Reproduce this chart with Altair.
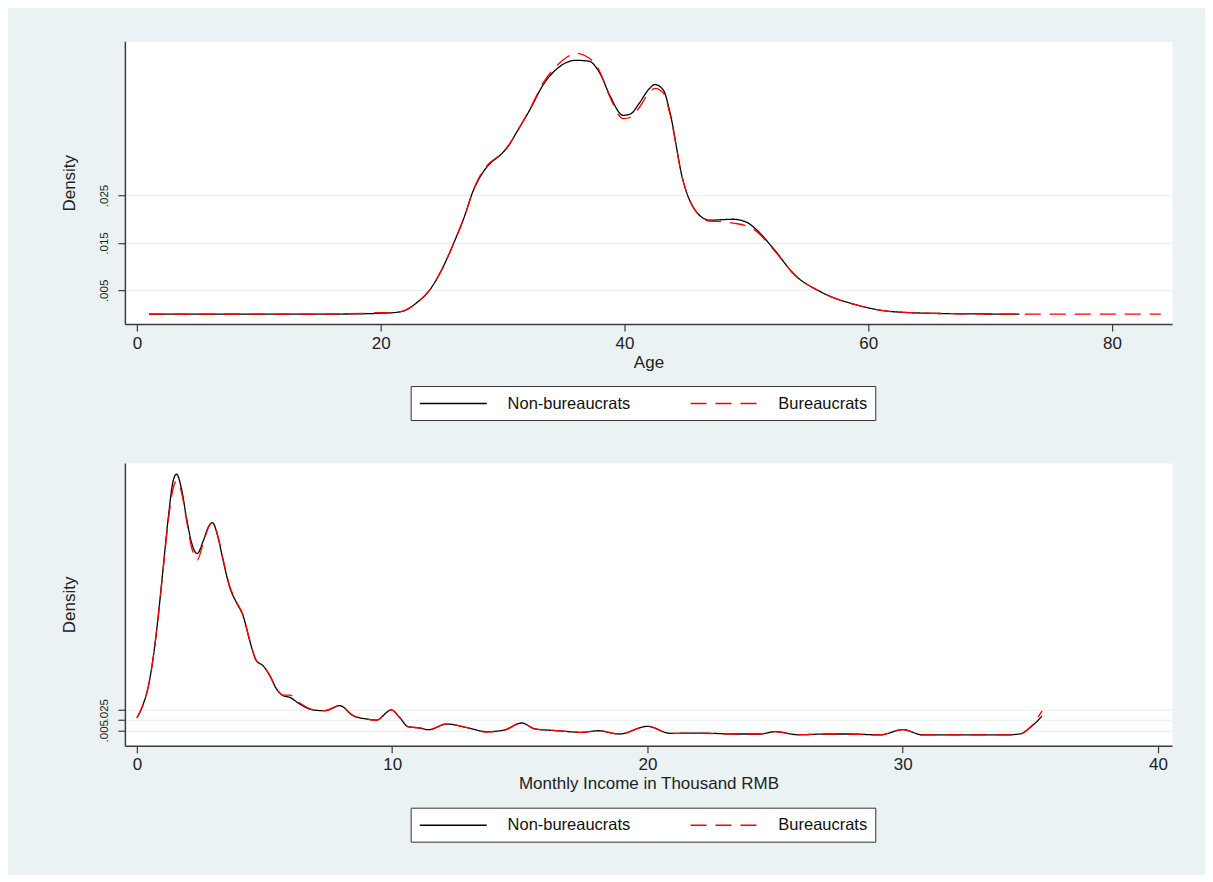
import altair as alt
import pandas as pd

GROUPS = ["Non-bureaucrats", "Bureaucrats"]

# ---- Age densities ----
age_x_nb = [1, 5, 10, 15, 19, 20, 21, 22, 23, 24, 25, 26, 27, 27.5, 28, 28.5, 29, 29.8, 30.5,
            31.1, 32.2, 33.4, 34.5, 35.3, 36, 37.1, 38, 38.8, 39.9, 40.5, 41.2, 42, 42.5, 43.2,
            43.7, 44.8, 45.8, 47, 48, 48.9, 50, 50.7, 52.1, 54, 56.1, 59.1, 62.1, 66.7, 72.4]
age_nb = [0.0, 0.0, 0.0, 0.0, 0.0001, 0.0002, 0.0003, 0.0008, 0.0025, 0.0050, 0.0093, 0.0150,
          0.0215, 0.0254, 0.0282, 0.0303, 0.0318, 0.0335, 0.0355, 0.0381, 0.0429, 0.0486,
          0.0518, 0.0531, 0.0535, 0.0533, 0.0507, 0.0461, 0.0419, 0.0422, 0.0444, 0.0474,
          0.0484, 0.0472, 0.0429, 0.0282, 0.0219, 0.0198, 0.0199, 0.0200, 0.0194, 0.0181,
          0.0142, 0.0082, 0.0047, 0.0019, 0.0005, 0.0001, 0.0]

age_x_b = [1, 5, 10, 15, 19, 20, 21, 22, 23, 24, 25, 26, 27, 27.5, 28, 28.5, 29, 29.8, 30.5,
           31.1, 32.2, 33.4, 34.5, 35.3, 36, 37.1, 38, 38.8, 39.9, 40.5, 41.2, 42, 42.5, 43.2,
           43.7, 44.8, 45.8, 47, 48, 48.9, 50, 50.7, 52.1, 54, 56.1, 59.1, 62.1, 66.7, 72.4, 84]
age_b = [0.0, 0.0, 0.0, 0.0, 0.0002, 0.0003, 0.0003, 0.0008, 0.0025, 0.0050, 0.0093, 0.0150,
         0.0215, 0.0254, 0.0284, 0.0306, 0.0320, 0.0336, 0.0356, 0.0381, 0.0430, 0.0490,
         0.0525, 0.0542, 0.0550, 0.0540, 0.0510, 0.0458, 0.0412, 0.0415, 0.0435, 0.0466,
         0.0476, 0.0466, 0.0425, 0.0282, 0.0219, 0.0196, 0.0195, 0.0192, 0.0186, 0.0177,
         0.0140, 0.0082, 0.0047, 0.0019, 0.0005, 0.0001, 0.0, 0.0]

# ---- Income densities ----
inc_x = [0.0, 0.25, 0.44, 0.64, 0.83, 1.03, 1.23, 1.42, 1.55, 1.75, 1.94, 2.14, 2.36, 2.6,
         2.79, 2.96, 3.18, 3.38, 3.64, 3.90, 4.16, 4.42, 4.68, 4.94, 5.21, 5.47, 5.73, 5.99,
         6.38, 6.90, 7.36, 7.95, 8.47, 8.99, 9.38, 9.97, 10.29, 10.62, 11.08, 11.43, 12.13,
         13.0, 13.7, 14.4, 15.07, 15.6, 16.5, 17.4, 18.07, 18.9, 20.0, 20.9, 22.0, 23.5, 24.4,
         25.0, 25.9, 27.0, 27.9, 29.1, 30.0, 30.8, 32.2, 34.0, 34.6, 35.0, 35.46]
inc_nb = [0.0171, 0.0305, 0.0463, 0.0749, 0.1130, 0.1606, 0.2082, 0.2431, 0.2495, 0.2352,
          0.2082, 0.1844, 0.1739, 0.1860, 0.1987, 0.2034, 0.1891, 0.1670, 0.1415, 0.1272,
          0.1146, 0.0908, 0.0717, 0.0670, 0.0574, 0.0448, 0.0384, 0.0368, 0.0305, 0.0248,
          0.0241, 0.0289, 0.0193, 0.0162, 0.0152, 0.0248, 0.0177, 0.0089, 0.0076, 0.0060,
          0.0114, 0.0076, 0.0041, 0.0057, 0.0124, 0.0067, 0.0050, 0.0035, 0.0050, 0.0019,
          0.0092, 0.0025, 0.0028, 0.0019, 0.0019, 0.0041, 0.0012, 0.0019, 0.0019, 0.0010,
          0.0060, 0.0010, 0.0010, 0.0010, 0.0020, 0.0082, 0.0190]
inc_b = [0.0171, 0.0305, 0.0463, 0.0749, 0.1125, 0.1590, 0.2050, 0.2360, 0.2430, 0.2320,
         0.2060, 0.1800, 0.1676, 0.1840, 0.1980, 0.2034, 0.1900, 0.1680, 0.1425, 0.1280,
         0.1150, 0.0915, 0.0720, 0.0672, 0.0576, 0.0450, 0.0390, 0.0390, 0.0315, 0.0250,
         0.0241, 0.0289, 0.0195, 0.0162, 0.0150, 0.0248, 0.0177, 0.0089, 0.0076, 0.0060,
         0.0114, 0.0076, 0.0038, 0.0057, 0.0124, 0.0067, 0.0050, 0.0035, 0.0050, 0.0019,
         0.0092, 0.0025, 0.0025, 0.0019, 0.0019, 0.0041, 0.0012, 0.0019, 0.0019, 0.0010,
         0.0060, 0.0010, 0.0010, 0.0010, 0.0020, 0.0085, 0.0240]

Y_TICKS = [0.005, 0.015, 0.025]
AGE_TICKS = [0, 20, 40, 60, 80]
INC_TICKS = [0, 10, 20, 30, 40]

FONT = "Liberation Sans, Arial, sans-serif"
# long legend sample line: path spans 8 half-units to the right of its start
LEGEND_LINE = "M-1,0L7,0"


def frame(xs_nb, ys_nb, xs_b, ys_b):
    a = pd.DataFrame({"x": xs_nb, "d": ys_nb, "g": GROUPS[0]})
    b = pd.DataFrame({"x": xs_b, "d": ys_b, "g": GROUPS[1]})
    return pd.concat([a, b], ignore_index=True)


def panel(df, xdom, xticks, ydom, xtitle):
    legend = alt.Legend(
        title=None, orient="none", legendX=286, legendY=345, direction="horizontal",
        symbolType=LEGEND_LINE, symbolSize=281, symbolStrokeWidth=1.4,
        symbolFillColor="transparent",
        labelFontSize=16.5, labelFont=FONT, labelColor="#111111", labelOffset=70,
        columnPadding=57, padding=8, strokeColor="#333333", fillColor="white",
        labelLimit=300,
    )
    color = alt.Color("g:N", scale=alt.Scale(domain=GROUPS, range=["#000000", "#FF0000"]),
                      legend=legend)
    dash = alt.StrokeDash("g:N", scale=alt.Scale(domain=GROUPS, range=[[1, 0], [16, 9]]),
                          legend=legend)
    x = alt.X("x:Q", scale=alt.Scale(domain=xdom, nice=False, zero=False),
              axis=alt.Axis(values=xticks, title=xtitle, grid=False, format="d"))
    y = alt.Y("d:Q", scale=alt.Scale(domain=ydom, nice=False, zero=False),
              axis=alt.Axis(values=Y_TICKS, title="Density", grid=True,
                            labelExpr="substring(format(datum.value, '.3f'), 1)",
                            labelAngle=270, labelAlign="center", labelBaseline="bottom",
                            labelFontSize=11.5, labelPadding=8, titlePadding=20))
    base = alt.Chart(df).mark_line(interpolate="monotone", strokeWidth=1.3).encode(
        x=x, y=y, color=color, strokeDash=dash)
    l1 = base.transform_filter(alt.datum.g == GROUPS[0])
    l2 = base.transform_filter(alt.datum.g == GROUPS[1])
    return alt.layer(l1, l2).properties(width=1048, height=283)


top = panel(frame(age_x_nb, age_nb, age_x_b, age_b), [-0.98, 84.92], AGE_TICKS,
            [-0.0021, 0.0575], "Age")
bottom = panel(frame(inc_x, inc_nb, inc_x, inc_b), [-0.47, 40.55], INC_TICKS,
               [-0.0093, 0.2602], "Monthly Income in Thousand RMB")

chart = alt.vconcat(top, bottom, spacing=41).resolve_scale(
    color="independent", strokeDash="independent"
).resolve_legend(color="independent", strokeDash="independent").configure(
    background="#EAF2F3",
    padding={"left": 52, "top": 32, "right": 32, "bottom": 32},
    font=FONT,
).configure_view(fill="white", stroke="transparent").configure_axis(
    domainColor="#3c3c3c", domainWidth=1.5, tickColor="#3c3c3c", tickWidth=1.2, tickSize=7,
    gridColor="#E6EEEF", gridWidth=1, labelColor="#222222", labelFont=FONT,
    labelFontSize=17, titleFont=FONT, titleFontSize=17, titleFontWeight="normal",
    titleColor="#222222",
).configure_axisX(labelPadding=4, titlePadding=3)

chart.save("out.html", embed_options={"renderer": "svg", "actions": False})
